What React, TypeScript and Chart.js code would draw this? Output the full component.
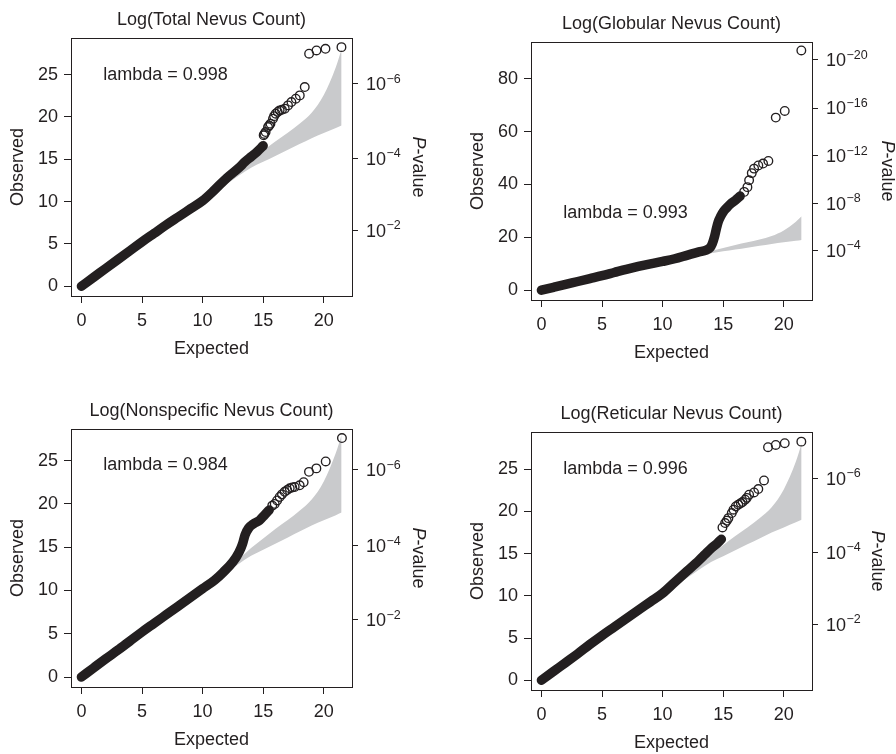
import React, { useEffect, useRef } from 'react';
import { Chart, registerables } from 'chart.js';

Chart.register(...registerables);

const FONT = '"Liberation Sans", Arial, Helvetica, sans-serif';
const INK = '#231f20';
const BAND_GRAY = '#c9cacc';

// ---------- text ----------
const TITLES = [
  'Log(Total Nevus Count)',
  'Log(Globular Nevus Count)',
  'Log(Nonspecific Nevus Count)',
  'Log(Reticular Nevus Count)',
];
const LAMBDAS = [0.998, 0.993, 0.984, 0.996];
const LAMBDA_AT_EXPECTED = [1.8, 1.8, 1.8, 1.8];
const LAMBDA_AT_OBSERVED = [25.0, 29.1, 24.5, 25.0];

// ---------- axes ----------
const EXPECTED_TICKS = [0, 5, 10, 15, 20];
const OBSERVED_TICKS_SMALL = [0, 5, 10, 15, 20, 25];
const OBSERVED_TICKS_LARGE = [0, 20, 40, 60, 80];
const P_TICKS_SMALL_AT = [6.63, 15.14, 23.93];
const P_TICKS_SMALL_EXP = [2, 4, 6];
const P_TICKS_LARGE_AT = [15.14, 32.84, 50.8, 68.9, 87.2];
const P_TICKS_LARGE_EXP = [4, 8, 12, 16, 20];
const EXPECTED_RANGE = [-0.86, 22.33];
const OBSERVED_RANGES = [
  [-1.15, 29.33],
  [-3.7, 93.9],
  [-1.15, 28.65],
  [-1.15, 29.4],
];

// ---------- confidence band ----------
const CI_EXPECTED = [10, 12, 13, 14, 15, 16, 17, 18, 19, 20, 21, 21.47];
const CI_LOWER = [10.0, 12.1, 13.1, 14.0, 14.7, 15.4, 16.1, 16.8, 17.5, 18.1, 18.7, 19.0];
const CI_UPPER = [10.1, 12.3, 13.6, 14.9, 16.0, 17.1, 18.1, 19.2, 20.5, 22.6, 25.9, 28.0];

// ---------- series ----------
const TOTAL_BULK_EXPECTED = [0, 1, 2, 3, 4, 5, 6, 7, 8, 9, 10, 11, 12, 13, 13.5, 14, 14.5, 15];
const TOTAL_BULK_OBSERVED = [0, 1.05, 2.1, 3.15, 4.2, 5.25, 6.25, 7.25, 8.2, 9.15, 10.1, 11.4, 12.8, 14.0, 14.7, 15.3, 15.9, 16.6];
const TOTAL_TAIL_EXPECTED = [15.04, 15.1, 15.2, 15.4, 15.5, 15.6, 15.81, 15.9, 16.03, 16.2, 16.36, 16.55, 16.78, 17.05, 17.33, 17.69, 18.02, 18.43, 18.79, 19.4, 20.14, 21.46];
const TOTAL_TAIL_OBSERVED = [17.83, 18.0, 18.22, 18.81, 19.0, 19.2, 19.8, 20.1, 20.39, 20.6, 20.78, 20.85, 20.98, 21.37, 21.76, 22.16, 22.55, 23.53, 27.47, 27.86, 28.06, 28.25];

const GLOBULAR_BULK_EXPECTED = [0, 1, 2, 3, 4, 5, 6, 7, 8, 9, 10, 11, 12, 13, 13.6, 13.9, 14.1, 14.3, 14.45, 14.6, 14.8, 15.0, 15.3, 15.6, 16.0, 16.4];
const GLOBULAR_BULK_OBSERVED = [0, 1.1, 2.2, 3.3, 4.4, 5.5, 6.7, 7.9, 9.0, 10.0, 10.9, 11.9, 13.2, 14.5, 15.2, 16.0, 17.6, 20.5, 23.5, 26.0, 28.0, 29.6, 31.2, 32.6, 34.0, 35.6];
const GLOBULAR_TAIL_EXPECTED = [16.73, 17.0, 17.14, 17.36, 17.55, 17.9, 18.29, 18.73, 19.34, 20.08, 21.45];
const GLOBULAR_TAIL_OBSERVED = [37.2, 39.0, 41.6, 44.3, 46.0, 47.2, 47.9, 48.9, 65.3, 67.8, 90.7];

const NONSPECIFIC_BULK_EXPECTED = [0, 1, 2, 3, 4, 5, 6, 7, 8, 9, 10, 11, 11.7, 12.5, 13.0, 13.3, 13.5, 13.8, 14.2, 14.7, 15.1, 15.5];
const NONSPECIFIC_BULK_OBSERVED = [0, 1.05, 2.1, 3.1, 4.15, 5.2, 6.2, 7.2, 8.2, 9.2, 10.2, 11.2, 12.1, 13.3, 14.4, 15.4, 16.4, 17.2, 17.7, 18.1, 18.7, 19.3];
const NONSPECIFIC_TAIL_EXPECTED = [15.75, 15.95, 16.15, 16.36, 16.55, 16.77, 16.98, 17.19, 17.4, 17.6, 18.01, 18.34, 18.78, 19.39, 20.16, 21.5];
const NONSPECIFIC_TAIL_OBSERVED = [19.8, 20.0, 20.4, 20.8, 21.1, 21.4, 21.6, 21.8, 21.9, 21.96, 22.15, 22.5, 23.7, 24.1, 24.9, 27.6];

const RETICULAR_BULK_EXPECTED = [0, 1, 2, 3, 4, 5, 6, 7, 8, 9, 10, 11, 12, 13, 13.5, 14, 14.5, 14.85];
const RETICULAR_BULK_OBSERVED = [0, 1.05, 2.1, 3.15, 4.25, 5.3, 6.3, 7.3, 8.3, 9.3, 10.3, 11.6, 12.9, 14.2, 14.9, 15.6, 16.2, 16.7];
const RETICULAR_TAIL_EXPECTED = [14.94, 15.16, 15.3, 15.43, 15.71, 15.85, 16.04, 16.25, 16.45, 16.6, 16.81, 16.95, 17.14, 17.55, 17.9, 18.37, 18.7, 19.34, 20.08, 21.45];
const RETICULAR_TAIL_OBSERVED = [18.1, 18.62, 18.9, 19.2, 19.8, 20.2, 20.59, 20.8, 20.98, 21.1, 21.38, 21.6, 21.97, 22.24, 22.64, 23.66, 27.6, 27.87, 28.07, 28.26];

// ---------- layout (canvas-local plot box) ----------
const PANEL_W = 448;
const PANEL_H = 377;
const BOX_W = 281;
const BOX_H = 258;
const BOX_ORIGINS = [
  { left: 71, top: 38 },
  { left: 83, top: 42 },
  { left: 71, top: 52 },
  { left: 83, top: 55 },
];
const P_TITLE_OFFSETS = [66, 75, 66, 65];

const SERIES = [
  [TOTAL_BULK_EXPECTED, TOTAL_BULK_OBSERVED, TOTAL_TAIL_EXPECTED, TOTAL_TAIL_OBSERVED],
  [GLOBULAR_BULK_EXPECTED, GLOBULAR_BULK_OBSERVED, GLOBULAR_TAIL_EXPECTED, GLOBULAR_TAIL_OBSERVED],
  [NONSPECIFIC_BULK_EXPECTED, NONSPECIFIC_BULK_OBSERVED, NONSPECIFIC_TAIL_EXPECTED, NONSPECIFIC_TAIL_OBSERVED],
  [RETICULAR_BULK_EXPECTED, RETICULAR_BULK_OBSERVED, RETICULAR_TAIL_EXPECTED, RETICULAR_TAIL_OBSERVED],
];

function pts(xs: number[], ys: number[]) {
  return xs.map((x, i) => ({ x, y: ys[i] }));
}

function makeDecor(idx: number) {
  const large = idx === 1;
  const pAt = large ? P_TICKS_LARGE_AT : P_TICKS_SMALL_AT;
  const pExp = large ? P_TICKS_LARGE_EXP : P_TICKS_SMALL_EXP;
  return {
    id: 'qqDecor' + idx,
    afterDraw(chart: any) {
      const { ctx, chartArea: a, scales } = chart;
      const cx = (a.left + a.right) / 2;
      const cy = (a.top + a.bottom) / 2;
      ctx.save();
      // plot box
      ctx.strokeStyle = INK;
      ctx.lineWidth = 1;
      ctx.strokeRect(a.left + 0.5, a.top + 0.5, a.right - a.left, a.bottom - a.top);

      ctx.fillStyle = INK;
      ctx.font = `18px ${FONT}`;
      ctx.textBaseline = 'middle';
      // title
      ctx.textAlign = 'center';
      ctx.fillText(TITLES[idx], cx, a.top - 17.5);
      // x title
      ctx.fillText('Expected', cx, a.bottom + 53);
      // y title
      ctx.save();
      ctx.translate(a.left - 53, cy);
      ctx.rotate(-Math.PI / 2);
      ctx.fillText('Observed', 0, 0);
      ctx.restore();
      // lambda
      ctx.textAlign = 'left';
      ctx.fillText(
        'lambda = ' + LAMBDAS[idx].toFixed(3),
        scales.x.getPixelForValue(LAMBDA_AT_EXPECTED[idx]),
        scales.y.getPixelForValue(LAMBDA_AT_OBSERVED[idx])
      );
      // right P-value tick labels
      ctx.textBaseline = 'alphabetic';
      pAt.forEach((v, i) => {
        const y = scales.y2.getPixelForValue(v) + 6.4;
        const x = a.right + 14;
        ctx.font = `18px ${FONT}`;
        ctx.fillText('10', x, y);
        const w = ctx.measureText('10').width;
        ctx.font = `12.5px ${FONT}`;
        ctx.fillText('\u2212' + pExp[i], x + w + 0.5, y - 7.5);
      });
      // P-value title
      ctx.save();
      ctx.translate(a.right + P_TITLE_OFFSETS[idx], cy);
      ctx.rotate(Math.PI / 2);
      ctx.textBaseline = 'middle';
      ctx.font = `italic 18px ${FONT}`;
      const wP = ctx.measureText('P').width;
      ctx.font = `18px ${FONT}`;
      const wR = ctx.measureText('-value').width;
      const x0 = -(wP + wR) / 2;
      ctx.font = `italic 18px ${FONT}`;
      ctx.fillText('P', x0, 0);
      ctx.font = `18px ${FONT}`;
      ctx.fillText('-value', x0 + wP, 0);
      ctx.restore();
      ctx.restore();
    },
  };
}

function Panel({ idx, left, top }: { idx: number; left: number; top: number }) {
  const ref = useRef<HTMLCanvasElement | null>(null);
  useEffect(() => {
    if (!ref.current) return;
    const [bx, by, tx, ty] = SERIES[idx];
    const [yMin, yMax] = OBSERVED_RANGES[idx];
    const yTicks = idx === 1 ? OBSERVED_TICKS_LARGE : OBSERVED_TICKS_SMALL;
    const pAt = idx === 1 ? P_TICKS_LARGE_AT : P_TICKS_SMALL_AT;
    const origin = BOX_ORIGINS[idx];
    const WL = 40, WR = 50, HB = 30;
    const tickFont = { family: FONT, size: 18 };
    const gridOpts = { display: true, drawOnChartArea: false, drawTicks: true, tickLength: 7, color: INK, lineWidth: 1 };

    const chart = new Chart(ref.current, {
      type: 'scatter',
      data: {
        datasets: [
          {
            data: pts(CI_EXPECTED, CI_UPPER),
            showLine: true,
            borderWidth: 0,
            borderColor: 'rgba(0,0,0,0)',
            backgroundColor: BAND_GRAY,
            pointRadius: 0,
            fill: '+1',
            cubicInterpolationMode: 'monotone',
            order: 4,
          },
          {
            data: pts(CI_EXPECTED, CI_LOWER),
            showLine: true,
            borderWidth: 0,
            borderColor: 'rgba(0,0,0,0)',
            backgroundColor: BAND_GRAY,
            pointRadius: 0,
            fill: false,
            cubicInterpolationMode: 'monotone',
            order: 3,
          },
          {
            data: pts(bx, by),
            showLine: true,
            borderColor: INK,
            borderWidth: 9.5,
            borderCapStyle: 'round',
            borderJoinStyle: 'round',
            pointRadius: 0,
            fill: false,
            cubicInterpolationMode: 'monotone',
            order: 2,
          },
          {
            data: pts(tx, ty),
            showLine: false,
            pointRadius: 4.3,
            pointBorderWidth: 1.35,
            pointBorderColor: INK,
            pointBackgroundColor: 'rgba(0,0,0,0)',
            order: 1,
          },
        ],
      } as any,
      options: {
        responsive: false,
        animation: false,
        events: [],
        layout: {
          padding: {
            left: origin.left - WL,
            top: origin.top,
            right: PANEL_W - (origin.left + BOX_W) - WR,
            bottom: PANEL_H - (origin.top + BOX_H) - HB,
          },
        },
        plugins: { legend: { display: false }, tooltip: { enabled: false }, title: { display: false } },
        scales: {
          x: {
            type: 'linear',
            position: 'bottom',
            min: EXPECTED_RANGE[0],
            max: EXPECTED_RANGE[1],
            afterBuildTicks: (s: any) => { s.ticks = EXPECTED_TICKS.map((v) => ({ value: v })); },
            afterFit: (s: any) => { s.height = HB; },
            grid: gridOpts,
            border: { display: false },
            ticks: { font: tickFont, color: INK, padding: 7, maxRotation: 0, autoSkip: false },
          },
          y: {
            type: 'linear',
            position: 'left',
            min: yMin,
            max: yMax,
            afterBuildTicks: (s: any) => { s.ticks = yTicks.map((v) => ({ value: v })); },
            afterFit: (s: any) => { s.width = WL; },
            grid: gridOpts,
            border: { display: false },
            ticks: { font: tickFont, color: INK, padding: 6, autoSkip: false },
          },
          y2: {
            type: 'linear',
            position: 'right',
            min: yMin,
            max: yMax,
            afterBuildTicks: (s: any) => { s.ticks = pAt.map((v) => ({ value: v })); },
            afterFit: (s: any) => { s.width = WR; },
            grid: { ...gridOpts, tickLength: 6 },
            border: { display: false },
            ticks: { font: tickFont, color: INK, autoSkip: false, callback: () => '' },
          },
        },
      } as any,
      plugins: [makeDecor(idx)],
    });
    return () => chart.destroy();
  }, [idx]);
  return (
    <canvas
      ref={ref}
      width={PANEL_W}
      height={PANEL_H}
      style={{ position: 'absolute', left, top, width: PANEL_W, height: PANEL_H }}
    />
  );
}

export default function App() {
  return (
    <div style={{ position: 'fixed', left: 0, top: 0, width: 896, height: 754, background: '#ffffff', overflow: 'hidden' }}>
      <Panel idx={0} left={0} top={0} />
      <Panel idx={1} left={PANEL_W} top={0} />
      <Panel idx={2} left={0} top={PANEL_H} />
      <Panel idx={3} left={PANEL_W} top={PANEL_H} />
    </div>
  );
}
